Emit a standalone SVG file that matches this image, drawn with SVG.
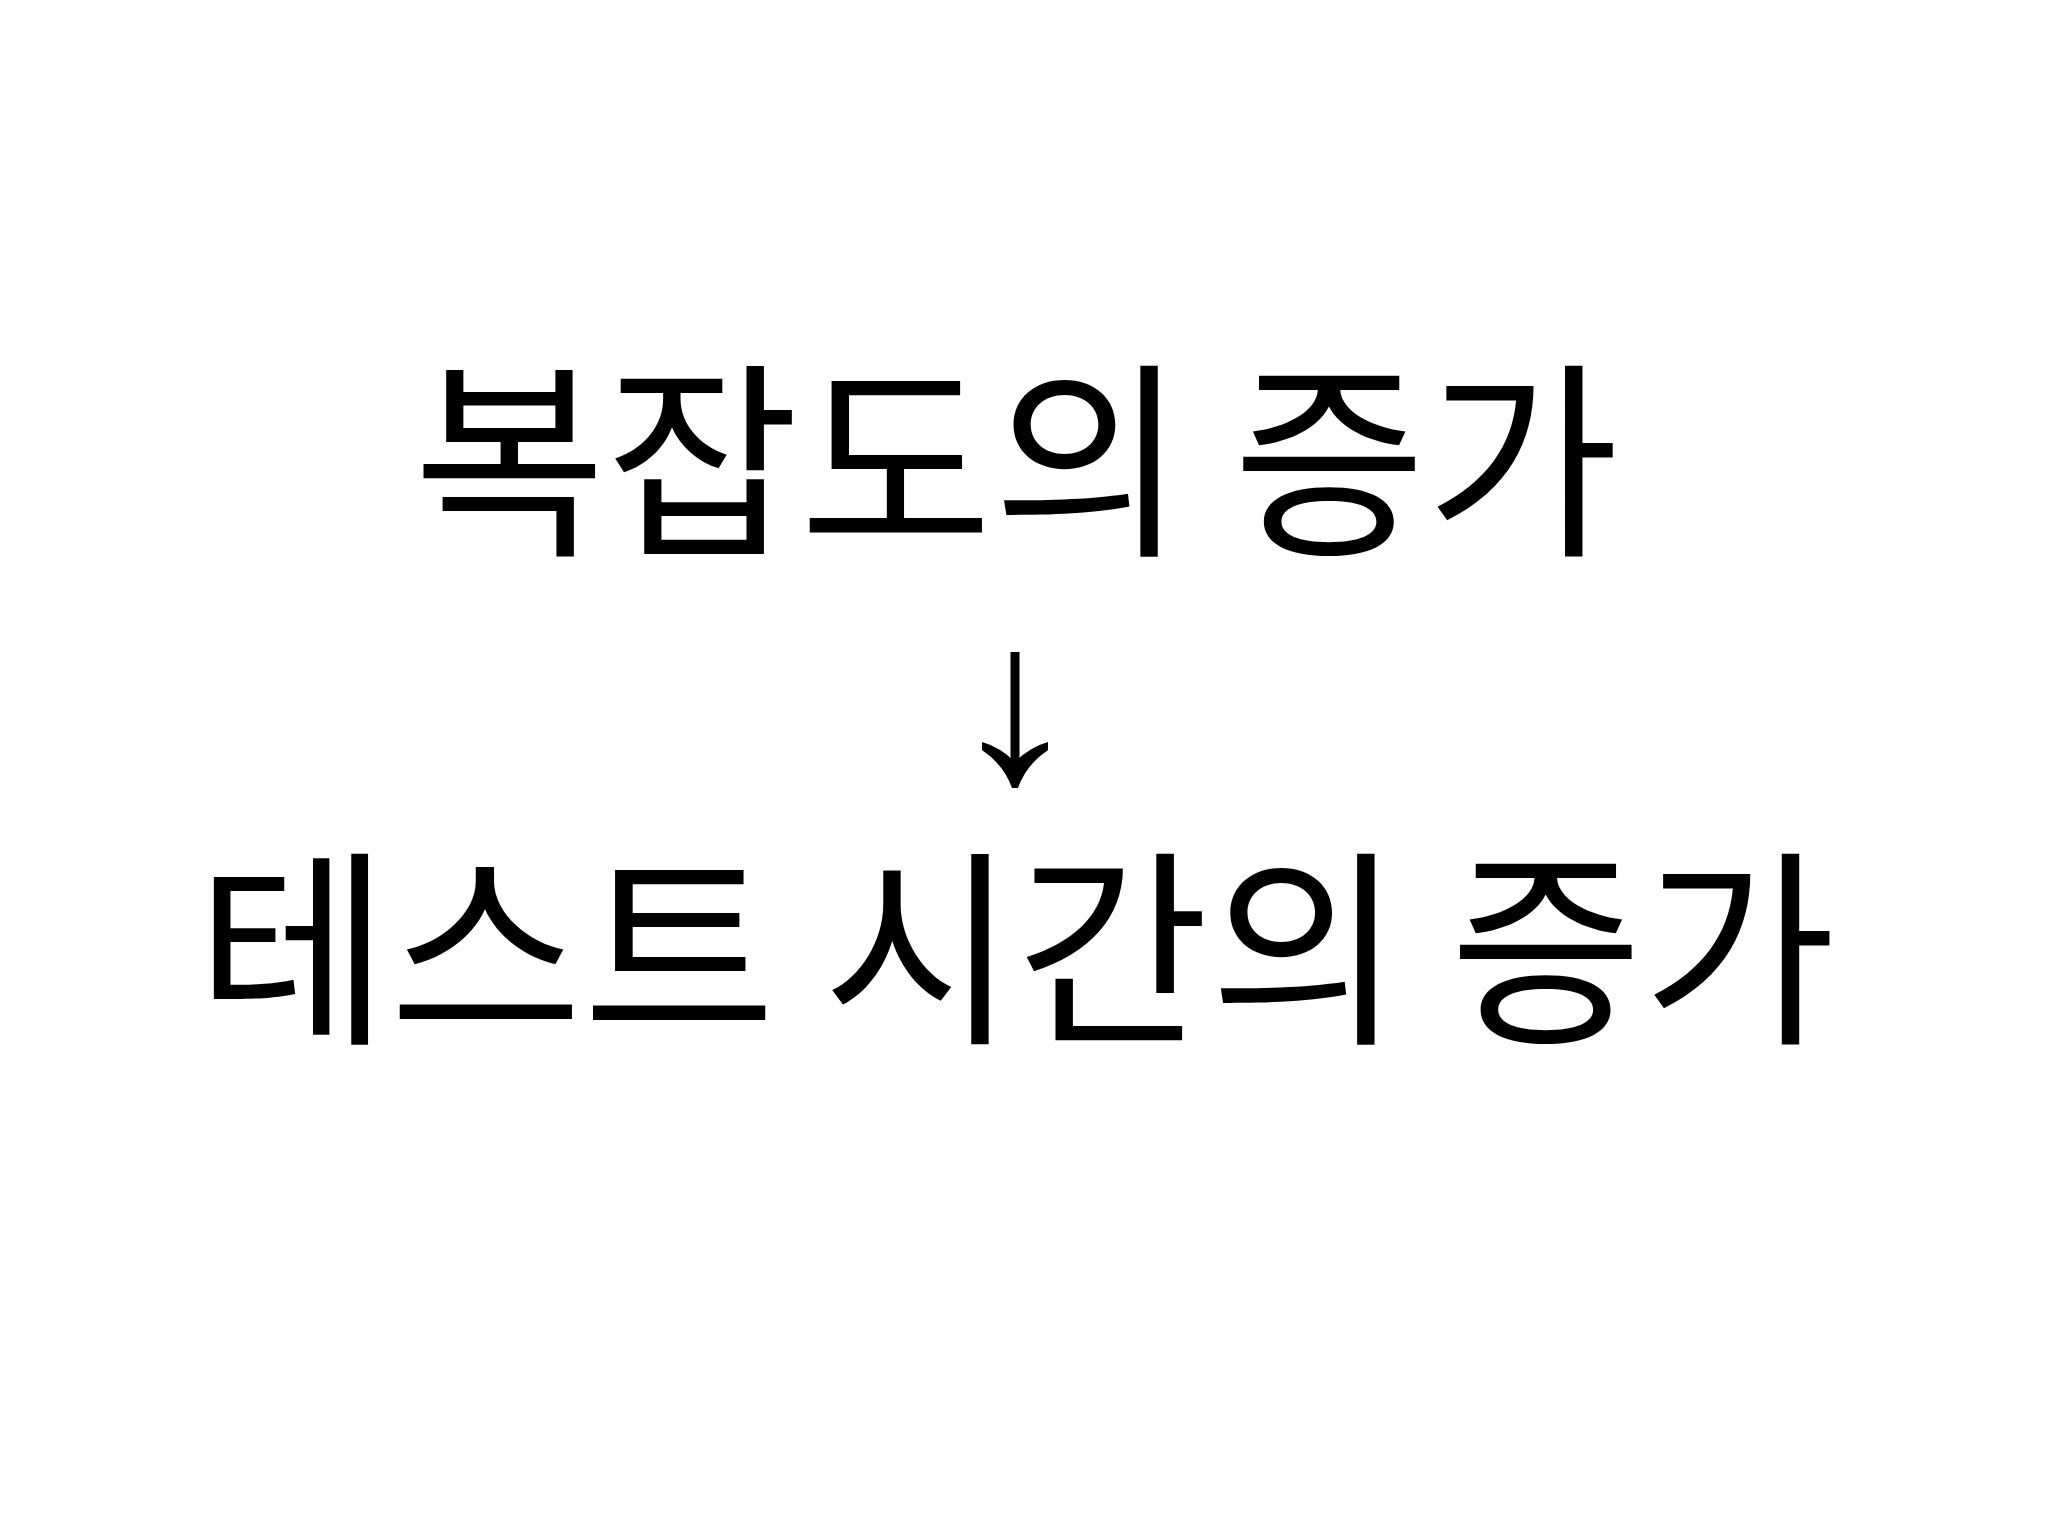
<svg xmlns="http://www.w3.org/2000/svg" width="2048" height="1536" viewBox="0 0 2048 1536">
<style>
.t{font-family:"Noto Sans CJK KR","Noto Sans",sans-serif;font-size:210px;fill:#000;text-anchor:middle}
</style>
<rect width="2048" height="1536" fill="#fff"/>
<g id="n1"><text class="t" x="1016" y="540">복잡도의 증가</text></g>
<g id="n2"><text class="t" x="1016" y="1028">테스트 시간의 증가</text></g>
<g id="connectors">
<line x1="1015" y1="652" x2="1015" y2="782" stroke="#000" stroke-width="9"/>
<path d="M982,742 L982,750 Q1004,765 1012,788 L1018,788 Q1026,765 1048,750 L1048,742 Q1030,747 1015,762 Q1000,747 982,742 Z" fill="#000"/>
</g>
</svg>
